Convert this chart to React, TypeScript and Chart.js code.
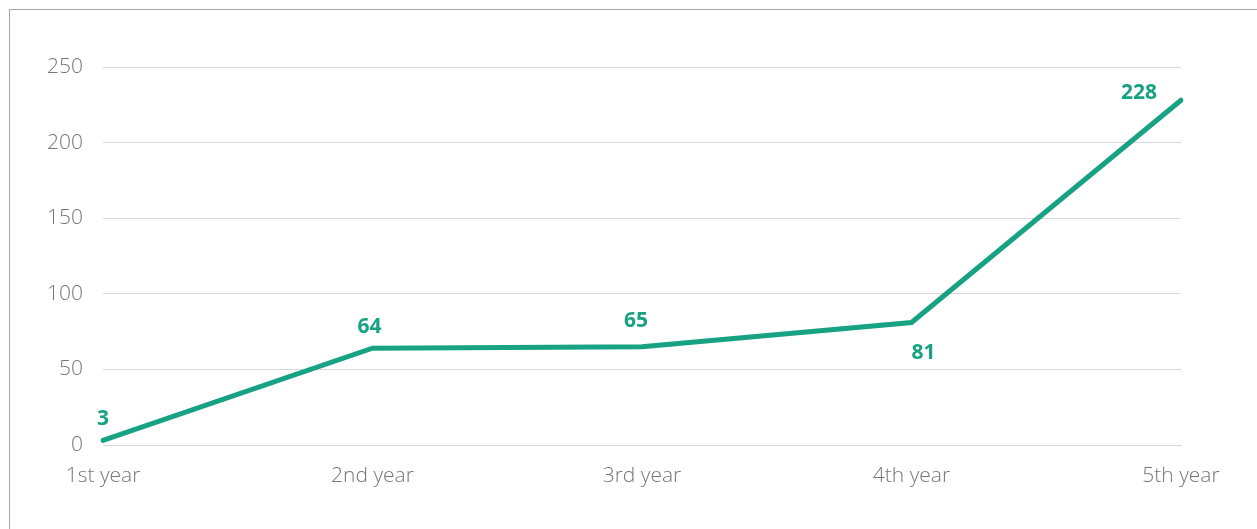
import React, { useEffect, useRef } from "react";
import { Chart, registerables } from "chart.js";

Chart.register(...registerables);

const categories = ["1st year", "2nd year", "3rd year", "4th year", "5th year"];
const values = [3, 64, 65, 81, 228];
const yTicks = [0, 50, 100, 150, 200, 250];

const LINE_COLOR = "#16A283";

const labelPlugin = {
  id: "pointLabels",
  afterDatasetsDraw(chart: any, _args: any, opts: any) {
    const meta = chart.getDatasetMeta(0);
    const ctx = chart.ctx;
    const ds = chart.data.datasets[0];
    ctx.save();
    ctx.font = "bold 21px 'Open Sans'";
    ctx.fillStyle = LINE_COLOR;
    ctx.textAlign = "center";
    ctx.textBaseline = "middle";
    meta.data.forEach((pt: any, i: number) => {
      const off = opts.offsets[i] || [0, -20];
      ctx.fillText(String(ds.data[i]), pt.x + off[0], pt.y + off[1]);
    });
    ctx.restore();
  },
};

export default function App() {
  const ref = useRef<HTMLCanvasElement>(null);
  useEffect(() => {
    if (!ref.current) return;
    const chart = new Chart(ref.current, {
      type: "line",
      data: {
        labels: categories,
        datasets: [
          {
            data: values,
            borderColor: LINE_COLOR,
            backgroundColor: LINE_COLOR,
            borderWidth: 5,
            pointRadius: 0,
            borderCapStyle: "round",
            tension: 0,
          },
        ],
      },
      options: {
        responsive: false,
        animation: false,
        layout: { padding: { left: 0, right: 79, top: 57, bottom: 45 } },
        plugins: {
          legend: { display: false },
          tooltip: { enabled: false },
          pointLabels: {
            offsets: [
              [0, -21],
              [-3, -21],
              [-6, -26],
              [12, 30],
              [-42, -7],
            ],
          },
        } as any,
        scales: {
          x: {
            offset: false,
            grid: { display: false, drawTicks: false },
            border: { display: true, color: "#d9d9d9", width: 1 },
            ticks: {
              padding: 18,
              color: "#767676",
              font: { family: "'Open Sans'", size: 21, weight: 300 },
              maxRotation: 0,
              autoSkip: false,
            },
            afterFit: (s: any) => {
              s.height = 50;
            },
          },
          y: {
            min: 0,
            max: 250,
            afterBuildTicks: (s: any) => {
              s.ticks = yTicks.map((v) => ({ value: v }));
            },
            grid: { color: "#d9d9d9", drawTicks: false, lineWidth: 1 },
            border: { display: false },
            ticks: {
              padding: 20,
              color: "#767676",
              font: { family: "'Open Sans'", size: 21, weight: 300 },
            },
            afterFit: (s: any) => {
              s.width = 93;
            },
          },
        },
      },
      plugins: [labelPlugin],
    });
    return () => chart.destroy();
  }, []);
  return (
    <div
      style={{
        position: "absolute",
        left: 9,
        top: 9,
        width: 1270,
        height: 540,
        border: "1px solid #a6a6a6",
        background: "#fff",
      }}
    >
      <canvas ref={ref} width={1250} height={530} style={{ display: "block", width: 1250, height: 530 }} />
    </div>
  );
}
